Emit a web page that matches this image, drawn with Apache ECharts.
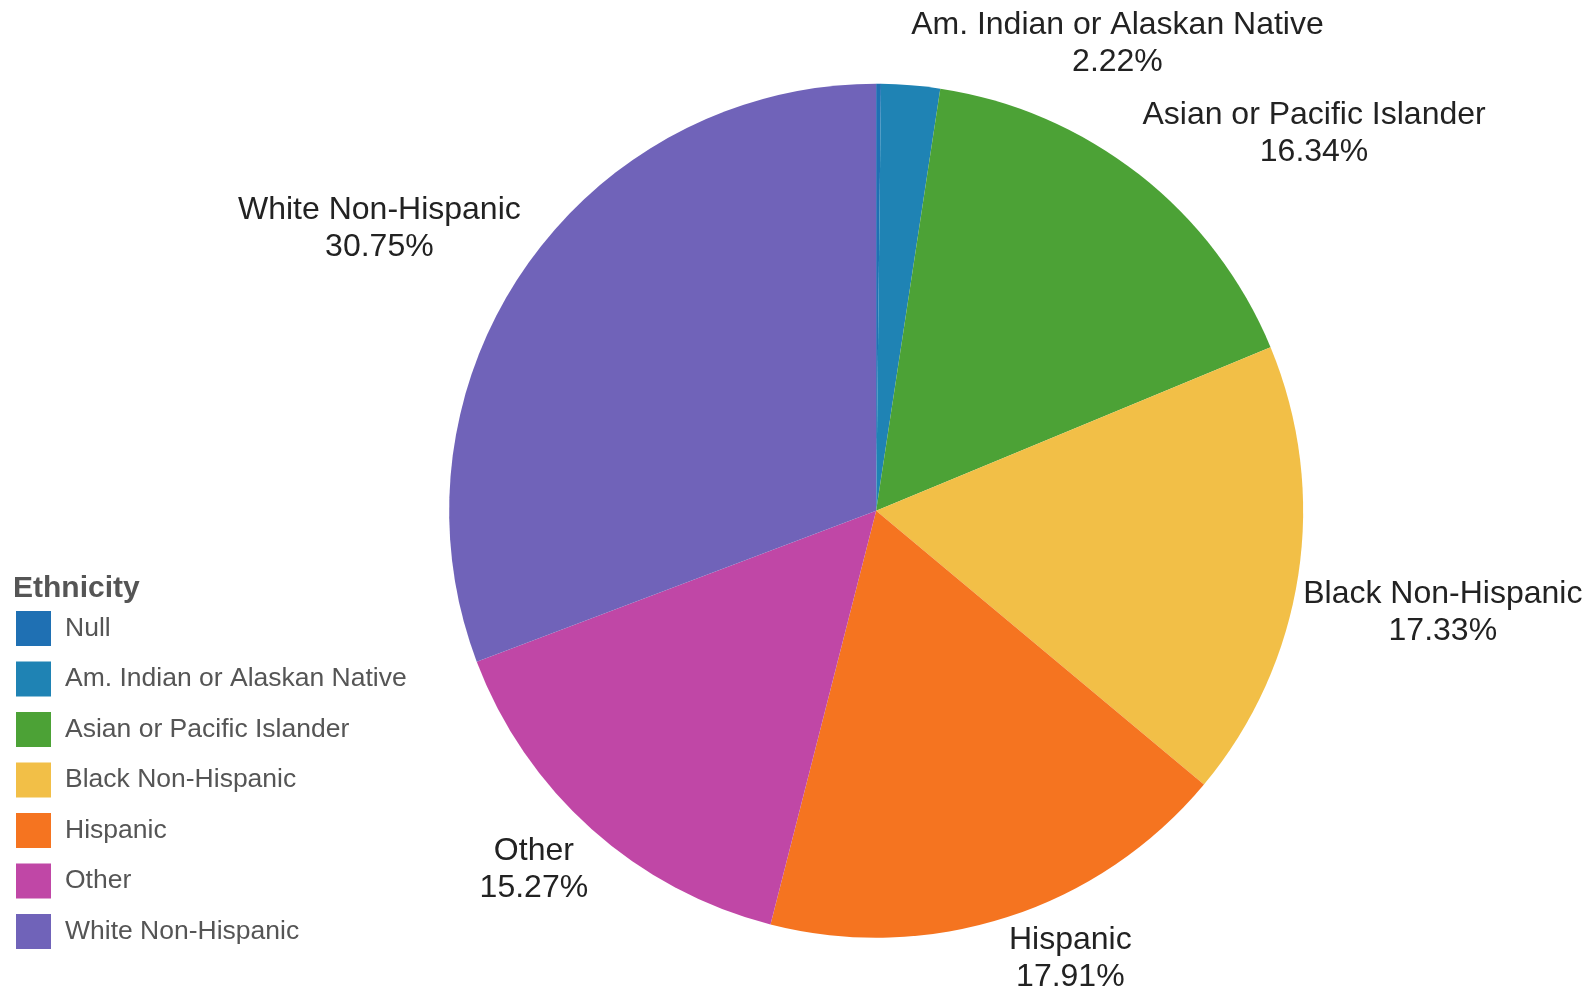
<!DOCTYPE html>
<html>
<head>
<meta charset="utf-8">
<script src="https://cdn.jsdelivr.net/npm/echarts@6/dist/echarts.min.js"></script>
<style>
  html, body { margin: 0; padding: 0; background: #fff; }
  #chart { width: 1593px; height: 988px; }
</style>
</head>
<body>
<div id="chart"></div>
<script>
// ethnicity shares, in percent
const categories = [
    'Null',
    'Am. Indian or Alaskan Native',
    'Asian or Pacific Islander',
    'Black Non-Hispanic',
    'Hispanic',
    'Other',
    'White Non-Hispanic'
];
const shares = [0.18, 2.22, 16.34, 17.33, 17.91, 15.27, 30.75];
const colors = ['#1f70b3', '#1f83b4', '#4ca236', '#f2bf47', '#f57420', '#c047a6', '#7063b9'];

const element = document.getElementById('chart');
const instance = echarts.init(element);

const centerPct = [0.55, 0.517];
const radius = 427;
const labelGap = 5;
const total = shares.reduce((a, b) => a + b, 0);

// put the corner of each label box that faces the pie on the slice's mid ray
function placeLabel(params) {
    const i = params.dataIndex;
    let before = 0;
    for (let k = 0; k < i; k++) before += shares[k];
    const mid = (before + shares[i] / 2) / total * Math.PI * 2;
    const cx = instance.getWidth() * centerPct[0];
    const cy = instance.getHeight() * centerPct[1];
    const R = radius + labelGap;
    const px = cx + R * Math.sin(mid);
    const py = cy - R * Math.cos(mid);
    const w = params.labelRect.width;
    const h = params.labelRect.height;
    return {
        x: px + (Math.sin(mid) >= 0 ? w / 2 : -w / 2),
        y: py + (Math.cos(mid) >= 0 ? -h / 2 : h / 2),
        align: 'center',
        verticalAlign: 'middle'
    };
}

const option = {
    animation: false,
    color: colors,
    title: {
        text: 'Ethnicity',
        left: 8,
        top: 569,
        textStyle: { fontFamily: 'Liberation Sans', fontSize: 30, fontWeight: 'bold', color: '#555' }
    },
    legend: {
        orient: 'vertical',
        left: 11,
        top: 606,
        icon: 'rect',
        itemWidth: 35,
        itemHeight: 35,
        itemGap: 15.5,
        selectedMode: false,
        textStyle: { fontFamily: 'Liberation Sans', fontSize: 26.5, color: '#555', padding: [3, 0, 0, 9] },
        data: categories
    },
    series: [
        {
            name: 'Ethnicity',
            type: 'pie',
            center: ['55%', '51.7%'],
            radius: radius,
            startAngle: 90,
            clockwise: true,
            avoidLabelOverlap: false,
            percentPrecision: 2,
            label: {
                show: true,
                position: 'outside',
                formatter: '{b}\n{d}%',
                fontFamily: 'Liberation Sans',
                fontSize: 32,
                lineHeight: 37,
                color: '#222',
                align: 'center'
            },
            labelLine: { show: false },
            labelLayout: placeLabel,
            itemStyle: { borderWidth: 0 },
            emphasis: { disabled: true },
            data: categories.map((name, i) => ({
                name: name,
                value: shares[i],
                label: { show: i !== 0 }
            }))
        }
    ]
};
instance.setOption(option);
</script>
</body>
</html>
